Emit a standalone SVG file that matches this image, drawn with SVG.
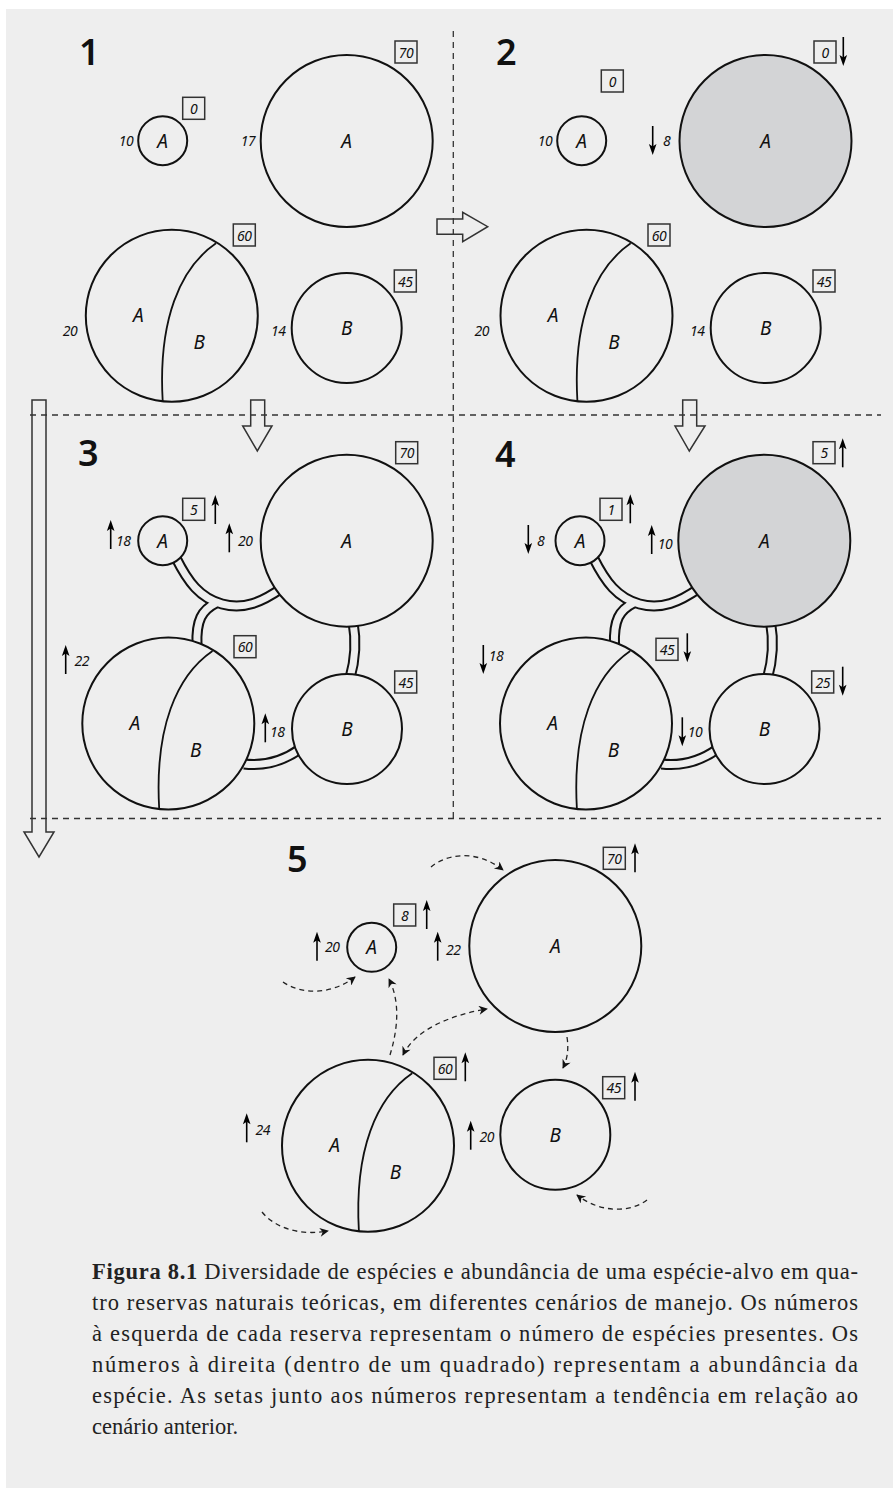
<svg xmlns="http://www.w3.org/2000/svg" xmlns:xlink="http://www.w3.org/1999/xlink" width="893" height="1488" viewBox="0 0 893 1488">
<style>
.c{fill:#eeeeee;stroke:#111;stroke-width:2}
.g{fill:#d3d4d6;stroke:#111;stroke-width:2}
.div{fill:none;stroke:#111;stroke-width:1.8}
.lbl{font-family:"Noto Sans","DejaVu Sans",sans-serif;font-style:italic;font-size:19px;fill:#111;text-anchor:middle;dominant-baseline:central}
.num{font-family:"Noto Sans","DejaVu Sans",sans-serif;font-style:italic;font-size:14px;fill:#111;text-anchor:middle;dominant-baseline:central;letter-spacing:-0.5px}
.box{fill:none;stroke:#333;stroke-width:1.5}
.pn{font-family:"Noto Sans","DejaVu Sans",sans-serif;font-weight:600;font-size:36px;fill:#111}
.dl{fill:none;stroke:#333;stroke-width:1.3;stroke-dasharray:6 5}
.ha{fill:none;stroke:#333;stroke-width:1.5;stroke-linejoin:miter}
.to{fill:none;stroke:#111;stroke-width:11}
.ti{fill:none;stroke:#eeeeee;stroke-width:7}
.da{fill:none;stroke:#222;stroke-width:1.3;stroke-dasharray:5 4}
.cap{font-family:"Liberation Serif",serif;font-size:22.5px;fill:#222}
</style>
<defs>
<g id="up"><line x1="0" y1="8" x2="0" y2="29" stroke="#000" stroke-width="1.6"/><path d="M0,0 L-3.8,11 L0,8.5 L3.8,11 Z" fill="#000"/></g>
<g id="dn"><line x1="0" y1="0" x2="0" y2="21" stroke="#000" stroke-width="1.6"/><path d="M0,29 L-3.8,18 L0,20.5 L3.8,18 Z" fill="#000"/></g>
<marker id="ah" viewBox="0 0 10 10" refX="9" refY="5" markerWidth="11" markerHeight="9" markerUnits="userSpaceOnUse" orient="auto-start-reverse"><path d="M0,0 L10,5 L0,10 L3,5 Z" fill="#111"/></marker>
<g id="abshape"><path class="div" d="M44.2,-72.5 C8.2,-47.8 -13.8,4.2 -9.1,85.5"/><text class="lbl" x="-33.5" y="-0.8">A</text><text class="lbl" x="27.5" y="26">B</text></g>
</defs>
<rect x="0" y="0" width="893" height="1488" fill="#ffffff"/>
<rect x="6" y="9" width="887" height="1479" fill="#eeeeee"/>

<g id="connectors">
<path class="dl" d="M453.3,31 V818"/>
<path class="dl" d="M30,415 H881"/>
<path class="dl" d="M30,818.5 H881"/>
<polygon class="ha" points="437,219 462.7,219 462.7,212.3 487.7,226.7 462.7,241.7 462.7,234.3 437,234.3"/>
<polygon class="ha" points="250.7,400 264.7,400 264.7,426 272,426 257.3,451 242.7,426 250.7,426"/>
<polygon class="ha" points="682.7,400 696.7,400 696.7,426 705,426 689.3,451 675,426 682.7,426"/>
<polygon class="ha" points="32,400 46,400 46,832 54,832 39,857 24,832 32,832"/>
<g id="tubes3">
<path class="to" d="M176,558 C188,582 200,598 222,604 C244,610 262,602 282,588"/>
<path class="to" d="M216,603 C202,610 196,620 197,645"/>
<path class="to" d="M353,622 Q358,650 350,678"/>
<path class="to" d="M244,764 C262,766 282,762 300,749"/>
<path class="ti" d="M176,558 C188,582 200,598 222,604 C244,610 262,602 282,588"/>
<path class="ti" d="M216,603 C202,610 196,620 197,645"/>
<path class="ti" d="M353,622 Q358,650 350,678"/>
<path class="ti" d="M244,764 C262,766 282,762 300,749"/>
</g>
<g id="tubes4" transform="translate(417.5,0)">
<path class="to" d="M176,558 C188,582 200,598 222,604 C244,610 262,602 282,588"/>
<path class="to" d="M216,603 C202,610 196,620 197,645"/>
<path class="to" d="M353,622 Q358,650 350,678"/>
<path class="to" d="M244,764 C262,766 282,762 300,749"/>
<path class="ti" d="M176,558 C188,582 200,598 222,604 C244,610 262,602 282,588"/>
<path class="ti" d="M216,603 C202,610 196,620 197,645"/>
<path class="ti" d="M353,622 Q358,650 350,678"/>
<path class="ti" d="M244,764 C262,766 282,762 300,749"/>
</g>
<g id="flows5">
<path class="da" marker-end="url(#ah)" d="M431,867 C445,855 475,848 503,870"/>
<path class="da" marker-end="url(#ah)" d="M283,982 C300,994 330,996 355,977"/>
<path class="da" marker-end="url(#ah)" d="M390,1055 C396,1035 402,1005 389,979"/>
<path class="da" marker-start="url(#ah)" marker-end="url(#ah)" d="M403,1055 C415,1030 450,1015 487,1009"/>
<path class="da" marker-end="url(#ah)" d="M567,1037 C569,1050 567,1060 563,1068"/>
<path class="da" marker-end="url(#ah)" d="M647,1200 C630,1213 600,1213 577,1195"/>
<path class="da" marker-end="url(#ah)" d="M262,1212 C275,1228 300,1236 328,1231"/>
</g>
</g>

<g id="panel1">
<text class="pn" x="79" y="65">1</text>
<g id="p1-a-small"><circle class="c" cx="162.7" cy="140.7" r="24.5"/><text class="lbl" x="162.7" y="140.7">A</text><text class="num" x="126" y="140">10</text><rect class="box" x="182.7" y="97.3" width="22" height="22"/><text class="num" x="193.7" y="108.3">0</text></g>
<g id="p1-a-big"><circle class="c" cx="346.7" cy="141" r="86"/><text class="lbl" x="346.7" y="141">A</text><text class="num" x="248" y="140">17</text><rect class="box" x="395" y="41" width="22" height="22"/><text class="num" x="406" y="52">70</text></g>
<g id="p1-ab"><circle class="c" cx="171.8" cy="315.8" r="86"/><use href="#abshape" transform="translate(171.8,315.8)"/><text class="num" x="70" y="330">20</text><rect class="box" x="233.3" y="224" width="22" height="22"/><text class="num" x="244.3" y="235">60</text></g>
<g id="p1-b"><circle class="c" cx="346.7" cy="328" r="55"/><text class="lbl" x="346.7" y="328">B</text><text class="num" x="278.3" y="330">14</text><rect class="box" x="394.3" y="270" width="22" height="22"/><text class="num" x="405.3" y="281">45</text></g>
</g>

<g id="panel2">
<text class="pn" x="496" y="65">2</text>
<g id="p2-a-small"><circle class="c" cx="581.7" cy="140.7" r="24.5"/><text class="lbl" x="581.7" y="140.7">A</text><text class="num" x="545" y="140">10</text><rect class="box" x="601.3" y="70" width="22" height="22"/><text class="num" x="612.3" y="81">0</text></g>
<g id="p2-a-big"><circle class="g" cx="765.5" cy="141" r="86"/><text class="lbl" x="765.5" y="141">A</text><use href="#dn" x="652.7" y="126"/><text class="num" x="666.7" y="140">8</text><rect class="box" x="814" y="41" width="22" height="22"/><text class="num" x="825" y="52">0</text><use href="#dn" x="843.3" y="37"/></g>
<g id="p2-ab"><circle class="c" cx="586.5" cy="315.8" r="86"/><use href="#abshape" transform="translate(586.5,315.8)"/><text class="num" x="481.7" y="330">20</text><rect class="box" x="648" y="224" width="22" height="22"/><text class="num" x="659" y="235">60</text></g>
<g id="p2-b"><circle class="c" cx="765.7" cy="328" r="55"/><text class="lbl" x="765.7" y="328">B</text><text class="num" x="697.3" y="330">14</text><rect class="box" x="813" y="270" width="22" height="22"/><text class="num" x="824" y="281">45</text></g>
</g>

<g id="panel3">
<text class="pn" x="78" y="466">3</text>
<g id="p3-a-small"><circle class="c" cx="162.7" cy="540.7" r="24.5"/><text class="lbl" x="162.7" y="540.7">A</text><use href="#up" x="110.7" y="520"/><text class="num" x="123.3" y="540.7">18</text><rect class="box" x="182.7" y="498.3" width="22" height="22"/><text class="num" x="193.7" y="509.3">5</text><use href="#up" x="215.3" y="495"/></g>
<g id="p3-a-big"><circle class="c" cx="346.7" cy="540.7" r="86"/><text class="lbl" x="346.7" y="540.7">A</text><use href="#up" x="229.3" y="523.3"/><text class="num" x="245.3" y="540.7">20</text><rect class="box" x="395.7" y="441.7" width="22" height="22"/><text class="num" x="406.7" y="452.7">70</text></g>
<g id="p3-ab"><circle class="c" cx="168.3" cy="723.5" r="86"/><use href="#abshape" transform="translate(168.3,723.5)"/><use href="#up" x="65.7" y="645"/><text class="num" x="81.7" y="660">22</text><rect class="box" x="234" y="635.7" width="22" height="22"/><text class="num" x="245" y="646.7">60</text></g>
<g id="p3-b"><circle class="c" cx="347" cy="729" r="55"/><text class="lbl" x="347" y="729">B</text><use href="#up" x="265.3" y="713.3"/><text class="num" x="277.3" y="731">18</text><rect class="box" x="394.7" y="671" width="22" height="22"/><text class="num" x="405.7" y="682">45</text></g>
</g>

<g id="panel4">
<text class="pn" x="495" y="467">4</text>
<g id="p4-a-small"><circle class="c" cx="580" cy="540.7" r="24.5"/><text class="lbl" x="580" y="540.7">A</text><use href="#dn" x="528.3" y="525"/><text class="num" x="540.7" y="540.7">8</text><rect class="box" x="600" y="498.3" width="22" height="22"/><text class="num" x="611" y="509.3">1</text><use href="#up" x="630.3" y="494.3"/></g>
<g id="p4-a-big"><circle class="g" cx="764.3" cy="540.7" r="86"/><text class="lbl" x="764.3" y="540.7">A</text><use href="#up" x="651.7" y="525"/><text class="num" x="665" y="543.3">10</text><rect class="box" x="813" y="441.7" width="22" height="22"/><text class="num" x="824" y="452.7">5</text><use href="#up" x="842.7" y="438.3"/></g>
<g id="p4-ab"><circle class="c" cx="586" cy="723.5" r="86"/><use href="#abshape" transform="translate(586,723.5)"/><use href="#dn" x="483.3" y="645"/><text class="num" x="496" y="655.7">18</text><rect class="box" x="656" y="638.3" width="22" height="22"/><text class="num" x="667" y="649.3">45</text><use href="#dn" x="687.3" y="633.3"/></g>
<g id="p4-b"><circle class="c" cx="764.5" cy="729" r="55"/><text class="lbl" x="764.5" y="729">B</text><use href="#dn" x="682.3" y="717.3"/><text class="num" x="695" y="731">10</text><rect class="box" x="811.7" y="671" width="22" height="22"/><text class="num" x="822.7" y="682">25</text><use href="#dn" x="842.7" y="666.7"/></g>
</g>

<g id="panel5">
<text class="pn" x="287" y="872">5</text>
<g id="p5-a-small"><circle class="c" cx="371.7" cy="947.3" r="24.5"/><text class="lbl" x="371.7" y="947.3">A</text><use href="#up" x="317" y="931.7"/><text class="num" x="332.3" y="946.7">20</text><rect class="box" x="393.7" y="904" width="22" height="22"/><text class="num" x="404.7" y="915">8</text><use href="#up" x="426.7" y="900"/></g>
<g id="p5-a-big"><circle class="c" cx="555.3" cy="946" r="86"/><text class="lbl" x="555.3" y="946">A</text><use href="#up" x="437.7" y="931.7"/><text class="num" x="453.3" y="949.3">22</text><rect class="box" x="603.3" y="847.3" width="22" height="22"/><text class="num" x="614.3" y="858.3">70</text><use href="#up" x="635" y="843.3"/></g>
<g id="p5-ab"><circle class="c" cx="368" cy="1145.8" r="86"/><use href="#abshape" transform="translate(368,1145.8)"/><use href="#up" x="246.7" y="1113.3"/><text class="num" x="262.7" y="1129.3">24</text><rect class="box" x="434" y="1057.3" width="22" height="22"/><text class="num" x="445" y="1068.3">60</text><use href="#up" x="465.3" y="1052.3"/></g>
<g id="p5-b"><circle class="c" cx="555.3" cy="1134.7" r="55"/><text class="lbl" x="555.3" y="1134.7">B</text><use href="#up" x="470.7" y="1120.7"/><text class="num" x="486.7" y="1136.7">20</text><rect class="box" x="602.7" y="1076.7" width="22" height="22"/><text class="num" x="613.7" y="1087.7">45</text><use href="#up" x="635" y="1071.7"/></g>
</g>

<g id="caption">
<text class="cap" x="92" y="1279" textLength="766" lengthAdjust="spacing"><tspan font-weight="bold">Figura 8.1</tspan> Diversidade de espécies e abundância de uma espécie-alvo em qua-</text>
<text class="cap" x="92" y="1310" textLength="766" lengthAdjust="spacing">tro reservas naturais teóricas, em diferentes cenários de manejo. Os números</text>
<text class="cap" x="92" y="1341" textLength="766" lengthAdjust="spacing">à esquerda de cada reserva representam o número de espécies presentes. Os</text>
<text class="cap" x="92" y="1372" textLength="766" lengthAdjust="spacing">números à direita (dentro de um quadrado) representam a abundância da</text>
<text class="cap" x="92" y="1403" textLength="766" lengthAdjust="spacing">espécie. As setas junto aos números representam a tendência em relação ao</text>
<text class="cap" x="92" y="1434">cenário anterior.</text>
</g>
</svg>
